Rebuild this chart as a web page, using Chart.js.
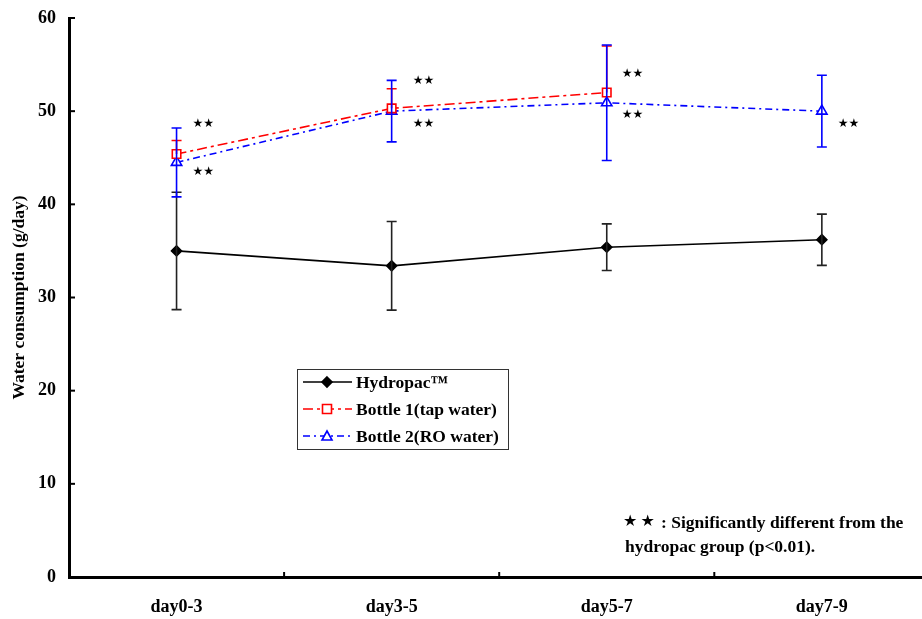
<!DOCTYPE html>
<html>
<head>
<meta charset="utf-8">
<script src="https://cdn.jsdelivr.net/npm/chart.js@4"></script>
<style>
  html, body { margin: 0; padding: 0; background: #fff; overflow: hidden; }
  #wrap { width: 937px; height: 619px; }
</style>
</head>
<body>
<div id="wrap"><canvas id="chart" width="937" height="619"></canvas></div>
<script>
const labels = ["day0-3", "day3-5", "day5-7", "day7-9"];

const hydropac = [35.0, 33.4, 35.4, 36.2];
const hydropacErr = [6.3, 4.75, 2.5, 2.75];

const bottle1 = [45.4, 50.3, 52.0, null];
const bottle1Err = [1.45, 2.1, 5.0, null]; // only the upper bar is shown

const bottle2 = [44.5, 50.0, 50.9, 50.0];
const bottle2Err = [3.7, 3.3, 6.2, 3.85];

// "**" marks next to each group, y in data units
const starY = [[48.6, 43.5], [53.2, 48.6], [54.0, 49.6], [48.6]];
const starDx = [17, 22, 16, 17];

const serif = "'Liberation Serif', 'Times New Roman', serif";

const errorBars = {
	id: "errorBars",
	afterDatasetsDraw(chart) {
		const ctx = chart.ctx;
		const y = chart.scales.y;
		const sets = [
			{ idx: 0, vals: hydropac, err: hydropacErr, color: "#222", up: true, down: true },
			{ idx: 1, vals: bottle1, err: bottle1Err, color: "#ff0000", up: true, down: false },
			{ idx: 2, vals: bottle2, err: bottle2Err, color: "#0000ff", up: true, down: true },
		];
		ctx.save();
		ctx.lineWidth = 1.6;
		sets.forEach((s) => {
			const meta = chart.getDatasetMeta(s.idx);
			ctx.strokeStyle = s.color;
			s.vals.forEach((v, i) => {
				if (v == null) return;
				const px = meta.data[i].x;
				const py = y.getPixelForValue(v);
				const top = y.getPixelForValue(v + s.err[i]);
				const bot = y.getPixelForValue(v - s.err[i]);
				ctx.beginPath();
				if (s.up) {
					ctx.moveTo(px, py); ctx.lineTo(px, top);
					ctx.moveTo(px - 5, top); ctx.lineTo(px + 5, top);
				}
				if (s.down) {
					ctx.moveTo(px, py); ctx.lineTo(px, bot);
					ctx.moveTo(px - 5, bot); ctx.lineTo(px + 5, bot);
				}
				ctx.stroke();
			});
		});
		ctx.restore();
	},
};

const decorations = {
	id: "decorations",
	afterDraw(chart) {
		const ctx = chart.ctx;
		const x = chart.scales.x;
		const y = chart.scales.y;
		const area = chart.chartArea;
		ctx.save();

		// axis tick marks
		ctx.strokeStyle = "#000";
		ctx.lineWidth = 2;
		y.ticks.forEach((t) => {
			const py = y.getPixelForValue(t.value);
			ctx.beginPath();
			ctx.moveTo(area.left, py);
			ctx.lineTo(area.left + 6, py);
			ctx.stroke();
		});
		for (let i = 1; i < labels.length; i++) {
			const px = (x.getPixelForValue(i - 1) + x.getPixelForValue(i)) / 2;
			ctx.beginPath();
			ctx.moveTo(px, area.bottom + 2);
			ctx.lineTo(px, area.bottom - 5);
			ctx.stroke();
		}

		// significance stars
		ctx.fillStyle = "#000";
		ctx.font = "12px 'DejaVu Sans'";
		ctx.textBaseline = "middle";
		ctx.textAlign = "left";
		starY.forEach((arr, i) => {
			const px = x.getPixelForValue(i) + starDx[i] - 1;
			arr.forEach((v) => {
				ctx.fillText("\u2605\u2605", px, y.getPixelForValue(v));
			});
		});

		// note
		ctx.font = "16px 'DejaVu Sans'";
		ctx.fillText("\u2605\u2009\u2605", 623, 522);
		ctx.font = "bold 17.5px " + serif;
		ctx.fillText(": Significantly different from the", 661, 523);
		ctx.fillText("hydropac group (p<0.01).", 625, 547);

		// legend box
		ctx.lineWidth = 1;
		ctx.strokeStyle = "#333";
		ctx.strokeRect(297.5, 369.5, 211, 80);
		const names = ["Hydropac\u2122", "Bottle 1(tap water)", "Bottle 2(RO water)"];
		const rows = [382, 409, 436];
		chart.data.datasets.forEach((ds, i) => {
			const ry = rows[i];
			ctx.strokeStyle = ds.borderColor;
			ctx.lineWidth = 1.6;
			ctx.setLineDash(ds.borderDash || []);
			ctx.beginPath();
			ctx.moveTo(303, ry);
			ctx.lineTo(352, ry);
			ctx.stroke();
			ctx.setLineDash([]);
			const cx = 327;
			ctx.fillStyle = ds.pointBackgroundColor;
			ctx.strokeStyle = ds.pointBorderColor;
			ctx.beginPath();
			if (ds.pointStyle === "rectRot") {
				ctx.moveTo(cx, ry - 5); ctx.lineTo(cx + 5, ry); ctx.lineTo(cx, ry + 5); ctx.lineTo(cx - 5, ry); ctx.closePath();
			} else if (ds.pointStyle === "rect") {
				ctx.rect(cx - 4.5, ry - 4.5, 9, 9);
			} else {
				ctx.moveTo(cx, ry - 5); ctx.lineTo(cx + 5, ry + 4); ctx.lineTo(cx - 5, ry + 4); ctx.closePath();
			}
			ctx.fill();
			ctx.stroke();
			ctx.fillStyle = "#000";
			ctx.font = "bold 17.5px " + serif;
			ctx.fillText(names[i], 356, ry + 1);
		});
		ctx.restore();
	},
};

new Chart(document.getElementById("chart"), {
	type: "line",
	data: {
		labels: labels,
		datasets: [
			{
				label: "Hydropac\u2122",
				data: hydropac,
				borderColor: "#000",
				borderWidth: 1.6,
				pointStyle: "rectRot",
				pointRadius: 5,
				pointBackgroundColor: "#000",
				pointBorderColor: "#000",
				tension: 0,
			},
			{
				label: "Bottle 1(tap water)",
				data: bottle1,
				borderColor: "#ff0000",
				borderWidth: 1.6,
				borderDash: [10, 4, 3, 4],
				pointStyle: "rect",
				pointRadius: 6,
				pointBorderWidth: 1.6,
				pointBackgroundColor: "#fff",
				pointBorderColor: "#ff0000",
				tension: 0,
			},
			{
				label: "Bottle 2(RO water)",
				data: bottle2,
				borderColor: "#0000ff",
				borderWidth: 1.6,
				borderDash: [7, 4, 2, 4],
				pointStyle: "triangle",
				pointRadius: 6,
				pointBorderWidth: 1.6,
				pointBackgroundColor: "#fff",
				pointBorderColor: "#0000ff",
				tension: 0,
			},
		],
	},
	options: {
		responsive: false,
		animation: false,
		layout: { padding: { left: 0, top: 18, right: 1, bottom: 0 } },
		plugins: {
			legend: { display: false },
			tooltip: { enabled: false },
		},
		scales: {
			x: {
				offset: true,
				grid: { display: false, drawTicks: false },
				border: { display: true, color: "#000", width: 3 },
				ticks: {
					padding: 20,
					color: "#000",
					font: { family: serif, size: 18, weight: "bold" },
				},
				afterFit: (s) => { s.height = 42; s.paddingLeft = 0; s.paddingRight = 0; },
			},
			y: {
				min: 0,
				max: 60,
				grid: { display: false, drawTicks: false },
				border: { display: true, color: "#000", width: 3 },
				ticks: {
					stepSize: 10,
					padding: 13,
					color: "#000",
					font: { family: serif, size: 18, weight: "bold" },
				},
				title: {
					display: true,
					text: "Water consumption (g/day)",
					color: "#000",
					padding: { top: 9, bottom: 0 },
					font: { family: serif, size: 17.5, weight: "bold" },
				},
				afterFit: (s) => { s.width = 69; s.paddingTop = 0; s.paddingBottom = 0; },
			},
		},
	},
	plugins: [errorBars, decorations],
});
</script>
</body>
</html>
